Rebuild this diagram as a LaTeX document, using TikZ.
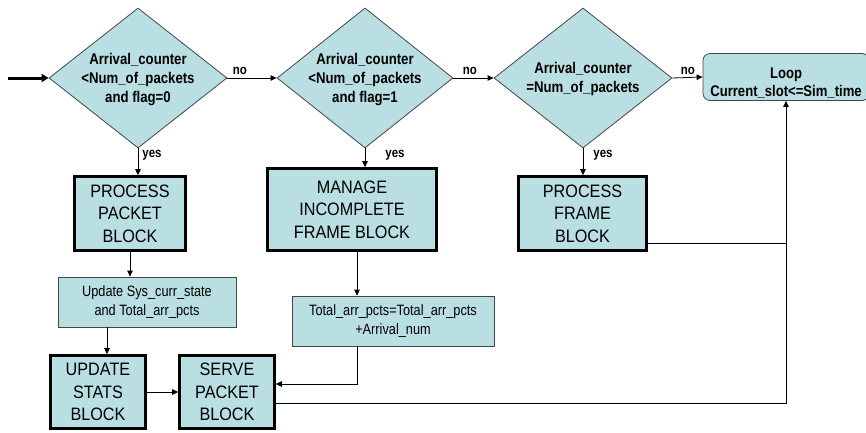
\documentclass[tikz,border=0pt]{standalone}
\usepackage{fontspec}
\setmainfont{Liberation Sans}
\newfontfamily\narrowsans{Liberation Sans}[FakeStretch=0.9]
\newfontfamily\slimsans{Liberation Sans}[FakeStretch=0.85]
\usetikzlibrary{shapes.geometric,arrows.meta,calc}
\definecolor{boxfill}{RGB}{185,223,227}
\definecolor{edge}{RGB}{70,70,70}
% centred text in a zero-size box, so the shape keeps its set size
\newcommand{\dlabel}[2][-5pt]{\smash{\raisebox{#1}{\makebox[0pt]{\begin{tabular}{@{}c@{}}#2\end{tabular}}}}}
\begin{document}
\begin{tikzpicture}[x=1pt,y=-1pt,
  dia/.style={diamond, draw=edge, fill=boxfill, line width=0.8pt, inner sep=0pt,
    minimum width=178pt, minimum height=140pt,
    font=\slimsans\bfseries\fontsize{15.5}{19}\selectfont},
  bigbox/.style={rectangle, draw=black, fill=boxfill, line width=2.6pt, align=center,
    inner sep=0pt, font=\narrowsans\fontsize{18}{22.5}\selectfont},
  smallbox/.style={rectangle, draw=edge, fill=boxfill, line width=0.8pt, align=center,
    inner sep=0pt, font=\slimsans\fontsize{15}{19}\selectfont},
  loopbox/.style={rectangle, rounded corners=7pt, draw=edge, fill=boxfill, line width=0.8pt,
    inner sep=0pt, minimum width=166pt, minimum height=47pt,
    font=\slimsans\bfseries\fontsize{15.4}{18}\selectfont},
  arr/.style={draw=black, line width=0.8pt, -{Triangle[length=6pt,width=5.5pt]}},
  link/.style={draw=black, line width=0.8pt},
  lbl/.style={font=\slimsans\bfseries\fontsize{13.5}{15}\selectfont, inner sep=1pt}]

\fill[white] (0,0) rectangle (866,432);
\useasboundingbox (0,0) rectangle (866,432);

% decisions
\node[dia] (d1) at (138,78) {\dlabel{Arrival\_counter\\<Num\_of\_packets\\and flag=0}};
\node[dia, minimum width=176pt] (d2) at (365,78) {\dlabel{Arrival\_counter\\<Num\_of\_packets\\and flag=1}};
\node[dia] (d3) at (583,78) {\dlabel{Arrival\_counter\\=Num\_of\_packets}};

% loop condition
\node[loopbox] (loop) at (786,77) {\dlabel[-10pt]{Loop\\Current\_slot<=Sim\_time}};

% processing blocks
\node[bigbox, minimum width=111pt, minimum height=74pt] (ppb) at (130,213.5) {PROCESS\\PACKET\\BLOCK};
\node[bigbox, minimum width=169pt, minimum height=82pt] (mif) at (352,209.5) {MANAGE\\INCOMPLETE\\FRAME BLOCK};
\node[bigbox, minimum width=128pt, minimum height=74pt] (pfb) at (582.5,213.5) {PROCESS\\FRAME\\BLOCK};
\node[bigbox, minimum width=95pt, minimum height=73pt] (usb) at (98,392) {UPDATE\\STATS\\BLOCK};
\node[bigbox, minimum width=95pt, minimum height=73pt] (spb) at (227,392) {SERVE\\PACKET\\BLOCK};

% assignments
\node[smallbox, minimum width=178pt, minimum height=50pt] (upd) at (147,302) {Update Sys\_curr\_state\\and Total\_arr\_pcts};
\node[smallbox, minimum width=202pt, minimum height=50pt] (tot) at (393,321) {Total\_arr\_pcts=Total\_arr\_pcts\\+Arrival\_num};

% entry
\coordinate (entry) at (8,78);
\draw[line width=3pt, -{Triangle[length=7pt,width=8pt]}] (entry) -- (d1.west);

% "no" branches
\draw[arr] (d1.east) -- (d2.west) node[lbl, pos=0, anchor=south west, xshift=4pt, yshift=2pt] {no};
\draw[arr] (d2.east) -- (d3.west) node[lbl, pos=0, anchor=south west, xshift=8pt, yshift=2pt] {no};
\draw[arr] (d3.east) -- (loop.west) node[lbl, pos=0, anchor=south west, xshift=7pt, yshift=2pt] {no};

% "yes" branches
\draw[arr] (d1.south) -- (d1.south |- ppb.north) node[lbl, pos=0, anchor=north west, xshift=3pt] {yes};
\draw[arr] (d2.south) -- (d2.south |- mif.north) node[lbl, pos=0, anchor=north west, xshift=19pt] {yes};
\draw[arr] (d3.south) -- (d3.south |- pfb.north) node[lbl, pos=0, anchor=north west, xshift=9pt] {yes};

% block chain
\draw[arr] (ppb.south) -- (ppb.south |- upd.north);
\draw[arr] ([xshift=9pt]usb.north |- upd.south) -- ([xshift=9pt]usb.north);
\draw[arr] (usb.east) -- (spb.west);
\draw[arr] ([xshift=5pt]mif.south) -- ([xshift=5pt]mif.south |- tot.north);
\draw[arr] ([xshift=-36pt]tot.south) |- ([yshift=8pt]spb.east);

% return to the loop
\draw[arr] ([yshift=-11pt]spb.east) -| (loop.south);
\draw[link] ([yshift=-29.5pt]pfb.east) -- ([yshift=-29.5pt]pfb.east -| loop.south);
\end{tikzpicture}
\end{document}
